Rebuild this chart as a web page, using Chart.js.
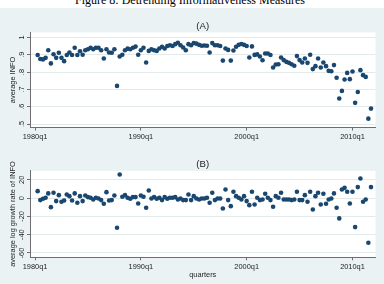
<!DOCTYPE html>
<html>
<head>
<meta charset="utf-8">
<script src="https://cdn.jsdelivr.net/npm/chart.js@4.4.1/dist/chart.umd.min.js"></script>
<style>
  html, body { margin:0; padding:0; }
  body { width:384px; height:284px; background:#eaf2f3; position:relative; overflow:hidden; }
  #caption { position:absolute; left:0; top:0; width:384px; height:7.5px; background:#fff; overflow:hidden; }
  #caption span { position:absolute; left:-2px; width:384px; top:-6.5px; text-align:center;
                  font:12px/12px "Liberation Serif", "DejaVu Serif", serif; color:#000; white-space:nowrap; }
  .panel { position:absolute; left:0; width:384px; height:142px; }
</style>
</head>
<body>
<div id="caption"><span>Figure 8: Detrending Informativeness Measures</span></div>
<div class="panel" style="top:0"><canvas id="chartA" width="384" height="142"></canvas></div>
<div class="panel" style="top:142px"><canvas id="chartB" width="384" height="142"></canvas></div>

<script>
// quarters counted from 1980q1 = 0, first observation 1980q2
const firstQuarter = 1

const xTickVals   = [0, 40, 80, 120]
const xTickLabels = ['1980q1', '1990q1', '2000q1', '2010q1']

const yTicksA  = [0.5, 0.6, 0.7, 0.8, 0.9, 1]
const yLabelsA = ['.5', '.6', '.7', '.8', '.9', '1']
const yTicksB  = [-60, -40, -20, 0, 20]
const yLabelsB = ['-60', '-40', '-20', '0', '20']

// (A) average INFO
const avgInfo = [
  0.898, 0.875, 0.873, 0.882, 0.926, 0.850, 0.903, 0.882, 0.911, 0.882,
  0.863, 0.898, 0.913, 0.898, 0.940, 0.898, 0.920, 0.900, 0.926, 0.932,
  0.940, 0.932, 0.940, 0.940, 0.926, 0.878, 0.932, 0.913, 0.911, 0.932,
  0.720, 0.890, 0.900, 0.926, 0.935, 0.932, 0.940, 0.947, 0.900, 0.926,
  0.940, 0.855, 0.922, 0.932, 0.926, 0.922, 0.936, 0.946, 0.936, 0.950,
  0.955, 0.950, 0.961, 0.969, 0.955, 0.942, 0.926, 0.961, 0.955, 0.968,
  0.964, 0.957, 0.952, 0.953, 0.952, 0.913, 0.967, 0.955, 0.955, 0.950,
  0.866, 0.936, 0.928, 0.866, 0.924, 0.946, 0.957, 0.962, 0.957, 0.950,
  0.884, 0.948, 0.899, 0.902, 0.890, 0.868, 0.907, 0.907, 0.898, 0.826,
  0.844, 0.845, 0.884, 0.869, 0.859, 0.853, 0.845, 0.836, 0.892, 0.869,
  0.855, 0.878, 0.853, 0.900, 0.817, 0.834, 0.878, 0.826, 0.855, 0.834,
  0.807, 0.805, 0.840, 0.767, 0.647, 0.691, 0.757, 0.795, 0.759, 0.803,
  0.622, 0.685, 0.811, 0.782, 0.772, 0.531, 0.589
]

// (B) average log growth rate of INFO
const growthInfo = [
   7.6,  -2.2,  -0.8,   0.3,   5.1,  -9.9,   5.8,  -3.3,   3.2,  -4.0,
  -2.6,   4.0,   2.1,  -2.6,   5.1,  -5.1,   2.1,  -3.3,   2.9,   1.1,
   0.3,  -1.5,   0.3,  -0.4,  -2.2,  -6.2,   6.5,  -2.6,  -2.2,   2.9,
 -32.4,  25.8,   1.4,   3.2,   0.3,  -0.8,   1.1,   1.1,  -5.9,   2.9,
   1.4, -10.6,   8.3,  -0.4,   1.1,  -0.8,   0.3,  -2.2,   1.1,  -0.8,
   0.3,   0.3,   1.1,  -1.5,  -0.4,  -2.2,  -2.2,   4.0,  -2.2,   2.1,
  -0.4,  -1.5,  -0.4,  -0.4,   0.3,  -5.1,   5.8,  -2.2,  -0.4,  -0.4,
 -11.3,   9.4,  -2.2,  -8.8,   6.9,   2.1,   0.3,  -1.5,   2.1,  -3.3,
  -7.7,   6.9,  -7.0,   0.3,  -2.2,  -1.5,   4.7,   0.3,  -2.2,  -9.5,
   2.1,   0.3,   5.8,  -1.5,  -1.5,  -1.5,  -2.2,  -1.5,   6.9,  -2.2,
  -2.2,   3.2,  -4.0,   6.9, -12.4,   2.1,   5.8,  -7.0,   4.7,  -6.2,
  -1.5,  -0.4,   5.1, -10.6, -22.2,   9.4,  11.2,   6.9,  -5.9,   6.9,
 -31.7,  12.0,  21.4,  -4.0,  -1.5, -48.8,  12.0
]

const navy      = '#1a476f'
const textColor = '#1e1e1e'
const axisColor = '#6e6e6e'
const gridColor = '#e2eaec'
const fontFam   = '"Liberation Sans", Arial, sans-serif'


// white plot region + stata style vertical tick labels and y title
const stataAxis = {
      id: 'stataAxis',
      beforeDraw(chart){
            const { ctx, chartArea: a } = chart
            ctx.save()
            ctx.fillStyle = '#ffffff'
            ctx.fillRect(a.left, a.top, a.right - a.left, a.bottom - a.top)
            ctx.restore()
      },
      afterDraw(chart, args, opts){
            const { ctx, chartArea: a } = chart
            const y = chart.scales.y
            ctx.save()
            ctx.fillStyle = textColor
            ctx.font = '7.4px ' + fontFam
            ctx.textAlign = 'center'
            ctx.textBaseline = 'middle'
            y.ticks.forEach((t, i) => {
                  ctx.save()
                  ctx.translate(opts.tickX, y.getPixelForValue(t.value))
                  ctx.rotate(-Math.PI / 2)
                  ctx.fillText(opts.labels[i], 0, 0)
                  ctx.restore()
            })
            ctx.translate(opts.titleX, (a.top + a.bottom) / 2)
            ctx.rotate(-Math.PI / 2)
            ctx.fillText(opts.title, 0, 0)
            ctx.restore()
      }
}


function toPoints(values){
      return values.map((v, i) => ({ x: firstQuarter + i, y: v }))
}


function makePanel(detail){

      const setup = {
            type: 'scatter',
            data: {
                  datasets: [{
                        data: toPoints(detail.values),
                        backgroundColor: navy,
                        borderWidth: 0,
                        pointRadius: 2.3,
                        pointHoverRadius: 2.3
                  }]
            },
            options: {
                  responsive: false,
                  animation: false,
                  layout: { padding: { left: 0, right: 8.5, top: 0, bottom: 0 } },
                  plugins: {
                        legend:  { display: false },
                        tooltip: { enabled: false },
                        title: {
                              display: true,
                              text: detail.title,
                              fullSize: false,
                              color: textColor,
                              font: { family: fontFam, size: 9.6, weight: 'normal' },
                              padding: detail.titlePadding
                        },
                        stataAxis: { labels: detail.yLabels, title: detail.yTitle, tickX: 22, titleX: 12.8 }
                  },
                  scales: {
                        x: {
                              type: 'linear',
                              min: -1.9,
                              max: 128.7,
                              afterBuildTicks: s => { s.ticks = xTickVals.map(v => ({ value: v })) },
                              afterFit: s => { s.height = detail.xHeight },
                              ticks: {
                                    autoSkip: false,
                                    maxRotation: 0,
                                    padding: 2,
                                    color: textColor,
                                    font: { family: fontFam, size: 7.4 },
                                    callback: (v, i) => xTickLabels[i]
                              },
                              grid: { drawOnChartArea: false, drawTicks: true, tickLength: 3, tickColor: axisColor },
                              border: { display: true, color: axisColor, width: 1 },
                              title: {
                                    display: !!detail.xTitle,
                                    text: detail.xTitle || '',
                                    color: textColor,
                                    font: { family: fontFam, size: 7.4 },
                                    padding: { top: 0, bottom: 5 }
                              }
                        },
                        y: {
                              type: 'linear',
                              min: detail.yMin,
                              max: detail.yMax,
                              afterBuildTicks: s => { s.ticks = detail.yTicks.map(v => ({ value: v })) },
                              afterFit: s => { s.width = 30 },
                              ticks: { display: false },
                              grid: { color: gridColor, lineWidth: 1, drawTicks: true, tickLength: 3, tickColor: axisColor },
                              border: { display: true, color: axisColor, width: 1 }
                        }
                  }
            },
            plugins: [stataAxis]
      }

      return new Chart(document.getElementById(detail.id), setup)
}


makePanel({
      id: 'chartA',
      title: '(A)',
      titlePadding: { top: 20.3, bottom: 0.6 },
      values: avgInfo,
      yTicks: yTicksA, yLabels: yLabelsA,
      yMin: 0.4798, yMax: 1.0288,
      yTitle: 'average INFO',
      xHeight: 14.5
})

makePanel({
      id: 'chartB',
      title: '(B)',
      titlePadding: { top: 16.3, bottom: 1.0 },
      values: growthInfo,
      yTicks: yTicksB, yLabels: yLabelsB,
      yMin: -64.7, yMax: 29.8,
      yTitle: 'average log growth rate of INFO',
      xTitle: 'quarters',
      xHeight: 26.7
})
</script>
</body>
</html>
